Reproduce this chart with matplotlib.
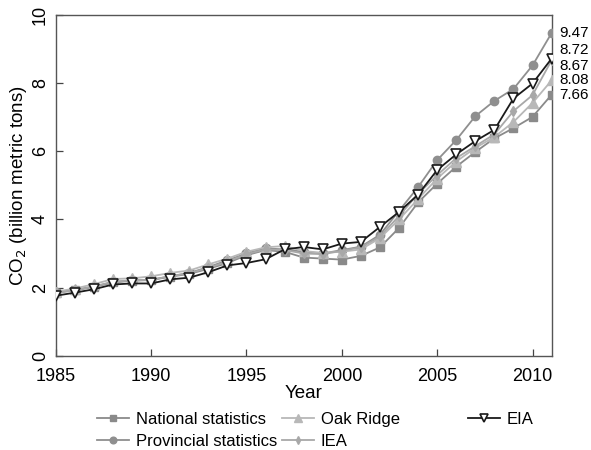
import matplotlib
matplotlib.use("Agg")
import matplotlib.pyplot as plt

plt.rcParams['font.family'] = ['Liberation Sans', 'DejaVu Sans']

years = list(range(1985, 2012))

national = [1.85, 1.92, 2.02, 2.15, 2.20, 2.22, 2.32, 2.40, 2.55, 2.72, 2.95, 3.10, 3.05,
            2.88, 2.85, 2.82, 2.93, 3.18, 3.75, 4.50, 5.05, 5.55, 5.98, 6.38, 6.68, 7.01, 7.66]
provincial = [1.86, 1.93, 2.03, 2.16, 2.21, 2.23, 2.33, 2.43, 2.60, 2.80, 3.00, 3.15, 3.12,
              3.05, 3.00, 3.10, 3.20, 3.55, 4.25, 4.95, 5.74, 6.33, 7.03, 7.48, 7.83, 8.52, 9.47]
oak_ridge = [1.88, 1.97, 2.10, 2.25, 2.27, 2.33, 2.43, 2.50, 2.68, 2.85, 3.05, 3.18, 3.22,
             3.07, 3.02, 3.05, 3.12, 3.45, 4.00, 4.60, 5.20, 5.70, 6.10, 6.42, 6.86, 7.42, 8.08]
iea = [1.84, 1.92, 2.03, 2.17, 2.21, 2.23, 2.33, 2.42, 2.58, 2.76, 2.98, 3.12, 3.10,
       3.00, 2.98, 3.08, 3.18, 3.50, 4.10, 4.75, 5.30, 5.80, 6.15, 6.50, 7.18, 7.65, 8.67]
eia = [1.76, 1.85, 1.95, 2.09, 2.12, 2.12, 2.24, 2.29, 2.45, 2.65, 2.72, 2.83, 3.12,
       3.19, 3.12, 3.29, 3.34, 3.78, 4.22, 4.73, 5.45, 5.91, 6.30, 6.63, 7.55, 7.99, 8.72]

series_names = ["National statistics", "Provincial statistics", "Oak Ridge", "IEA", "EIA"]
end_labels = ["7.66", "9.47", "8.08", "8.67", "8.72"]

xticks = [1985, 1990, 1995, 2000, 2005, 2010]
yticks = [0, 2, 4, 6, 8, 10]

# styles
styles = [
    dict(color="#8a8a8a", marker="s", ms=6, mfc="#8a8a8a", mec="#8a8a8a", lw=1.3),
    dict(color="#8f8f8f", marker="o", ms=6, mfc="#8f8f8f", mec="#8f8f8f", lw=1.3),
    dict(color="#b8b8b8", marker="^", ms=7, mfc="#b8b8b8", mec="#b8b8b8", lw=1.3),
    dict(color="#a8a8a8", marker="d", ms=5, mfc="#a8a8a8", mec="#a8a8a8", lw=1.3),
    dict(color="#1a1a1a", marker="v", ms=7.5, mfc="white", mec="#1a1a1a", mew=1.2, lw=1.3),
]
label_offsets_pt = [0, 0, 0, -4, 6]  # vertical text offsets (points) to avoid overlap

fig = plt.figure(figsize=(5.91, 4.5), dpi=100)
ax = fig.add_axes([0.0944, 0.2096, 0.8389, 0.757])

data = [national, provincial, oak_ridge, iea, eia]
handles = []
for name, vals, st in zip(series_names, data, styles):
    h, = ax.plot(years, vals, label=name, zorder=3 if name != "EIA" else 5, **st)
    handles.append(h)

for vals, lab, off in zip(data, end_labels, label_offsets_pt):
    ax.annotate(lab, xy=(years[-1], vals[-1]), xytext=(5.5, off), textcoords="offset points",
                va="center", ha="left", fontsize=11, annotation_clip=False)

ax.set_xlim(1985, 2011)
ax.set_ylim(0, 10)
ax.set_xticks(xticks)
ax.set_yticks(yticks)
ax.tick_params(direction="in", length=5, width=0.9, color="#444444", labelsize=13)
ax.tick_params(axis="y", labelrotation=90, pad=5)
ax.tick_params(axis="x", pad=9)
for lbl in ax.get_yticklabels():
    lbl.set_va("center")
for sp in ax.spines.values():
    sp.set_color("#555555")
    sp.set_linewidth(1.0)

ax.set_xlabel("Year", fontsize=13.5, labelpad=0)
ax.set_ylabel("CO$_2$ (billion metric tons)", fontsize=13.5, labelpad=2)

leg_kw = dict(frameon=False, fontsize=12, handlelength=1.9, handletextpad=0.42,
              borderaxespad=0, borderpad=0, markerscale=0.8)
leg1 = fig.legend(handles[:4], series_names[:4], ncol=2, loc="upper left",
                  bbox_to_anchor=(0.164, 0.084), columnspacing=0.3,
                  labelspacing=0.4, **leg_kw)
leg2 = fig.legend(handles[4:], series_names[4:], loc="upper left",
                  bbox_to_anchor=(0.792, 0.084), **leg_kw)

fig.savefig("out.png", dpi=100)
